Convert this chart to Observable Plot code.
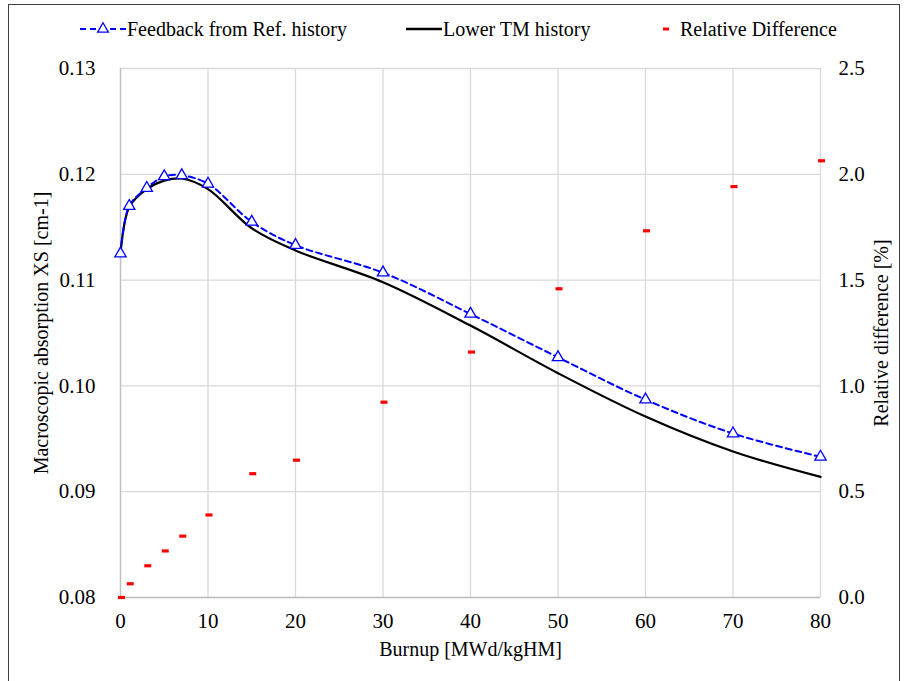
<!DOCTYPE html>
<html>
<head>
<meta charset="utf-8">
<script src="https://cdn.jsdelivr.net/npm/d3@7"></script>
<script src="https://cdn.jsdelivr.net/npm/@observablehq/plot@0.6"></script>
<style>
  html, body { margin: 0; padding: 0; background: #fff; width: 904px; height: 681px; overflow: hidden; }
  body { position: relative; font-family: "Liberation Serif", "Times New Roman", Tinos, "DejaVu Serif", serif; }
  #border { position: absolute; left: 8px; top: 4px; width: 890px; height: 700px; border: 1.5px solid #404040; pointer-events: none; }
  #legend { position: relative; height: 40px; font-size: 20px; color: #000; }
  .item { position: absolute; top: 16px; height: 26px; display: flex; align-items: center; white-space: nowrap; }
  #chart { display: block; }
  #chart svg text { font-family: "Liberation Serif", "Times New Roman", Tinos, "DejaVu Serif", serif; }
</style>
</head>
<body>
<div id="legend"></div>
<div id="chart"></div>
<div id="border"></div>
<script>
// ---- data ----
const burnup = [0, 1, 3, 5, 7, 10, 15, 20, 30, 40, 50, 60, 70, 80];
const feedbackRef = [0.1125, 0.1170, 0.1187, 0.1198, 0.1199, 0.1191, 0.1155, 0.1133, 0.1107, 0.1068, 0.1027, 0.0987, 0.0955, 0.0933];
const lowerTM = [0.1125, 0.1169, 0.1186, 0.1194, 0.1196, 0.1186, 0.1149, 0.1128, 0.1098, 0.1057, 0.1012, 0.0971, 0.0938, 0.0914];
const relDiff = [0.0, 0.065, 0.15, 0.22, 0.29, 0.39, 0.585, 0.649, 0.923, 1.16, 1.459, 1.733, 1.942, 2.064];
const xTicks = [0, 10, 20, 30, 40, 50, 60, 70, 80];
const yLeftTicks = [0.08, 0.09, 0.10, 0.11, 0.12, 0.13];
const yRightTicks = [0.0, 0.5, 1.0, 1.5, 2.0, 2.5];
const seriesNames = ["Feedback from Ref. history", "Lower TM history", "Relative Difference"];
const xTitle = "Burnup [MWd/kgHM]";
const yLeftTitle = "Macroscopic absorption XS [cm-1]";
const yRightTitle = "Relative difference [%]";

// right axis mapping onto left scale
const yMin = 0.08, yMax = 0.13, rMax = 2.5;
const toLeft = r => yMin + r * (yMax - yMin) / rMax;
const fromLeft = v => (v - yMin) * rMax / (yMax - yMin);

const rows = burnup.map((b, i) => ({ b, fb: feedbackRef[i], lo: lowerTM[i], rd: relDiff[i] }));

const dashSymbol = { draw(ctx) { ctx.moveTo(-3.5, -1.6); ctx.lineTo(3.5, -1.6); ctx.lineTo(3.5, 1.6); ctx.lineTo(-3.5, 1.6); ctx.closePath(); } };

const font = "'Liberation Serif', 'Times New Roman', Tinos, 'DejaVu Serif', serif";

const plot = Plot.plot({
  width: 904,
  height: 641,
  marginLeft: 120,
  marginRight: 84,
  marginTop: 28,
  marginBottom: 84,
  style: { fontFamily: font, fontSize: "21px", color: "#000", background: "#fff", overflow: "visible" },
  x: { domain: [0, 80] },
  y: { domain: [yMin, yMax] },
  marks: [
    Plot.gridX(xTicks, { stroke: "#d9d9d9", strokeOpacity: 1, strokeWidth: 1.3 }),
    Plot.gridY(yLeftTicks, { stroke: "#d9d9d9", strokeOpacity: 1, strokeWidth: 1.3 }),
    Plot.ruleX([0], { stroke: "#bfbfbf", strokeWidth: 1.3 }),
    Plot.ruleY([yMin], { stroke: "#bfbfbf", strokeWidth: 1.3 }),
    Plot.axisX(xTicks, { tickSize: 0, tickPadding: 16, label: null, fontSize: 21 }),
    Plot.axisY(yLeftTicks, { anchor: "left", tickSize: 0, tickPadding: 25, label: null, tickFormat: d => d.toFixed(2), fontSize: 21 }),
    Plot.axisY(yRightTicks.map(toLeft), { anchor: "right", tickSize: 0, tickPadding: 18, label: null, tickFormat: d => fromLeft(d).toFixed(1), fontSize: 21 }),
    Plot.line(rows, { x: "b", y: "lo", stroke: "#000", strokeWidth: 2.2, curve: "catmull-rom" }),
    Plot.line(rows, { x: "b", y: "fb", stroke: "#0000ff", strokeWidth: 2, strokeDasharray: "6,4", curve: "catmull-rom" }),
    Plot.dot(rows, { x: "b", y: "fb", symbol: "triangle", r: 4.2, stroke: "#0000ff", strokeWidth: 1.3, fill: "#fff" }),
    Plot.dot(rows, { x: "b", y: d => toLeft(d.rd), symbol: dashSymbol, fill: "#ff0000", stroke: "none", dx: 1 }),
    Plot.text([xTitle], { frameAnchor: "bottom", dy: 58, text: d => d, fontSize: 20, textAnchor: "middle" }),
    Plot.text([yLeftTitle], { frameAnchor: "left", dx: -79, rotate: -90, text: d => d, fontSize: 20, textAnchor: "middle" }),
    Plot.text([yRightTitle], { frameAnchor: "right", dx: 61, rotate: -90, text: d => d, fontSize: 20, textAnchor: "middle" })
  ]
});
document.getElementById("chart").appendChild(plot);

// ---- legend ----
const legend = d3.select("#legend");
const items = [
  { left: 80, w: 46, kind: "fb" },
  { left: 406, w: 36, kind: "lo" },
  { left: 656, w: 20, kind: "rd" }
];
items.forEach((it, i) => {
  const div = legend.append("div").attr("class", "item").style("left", it.left + "px");
  const svg = div.append("svg").attr("width", it.w).attr("height", 26);
  if (it.kind === "fb") {
    svg.append("line").attr("x1", 0).attr("x2", it.w).attr("y1", 13).attr("y2", 13)
      .attr("stroke", "#0000ff").attr("stroke-width", 2).attr("stroke-dasharray", "6,4");
    svg.append("path").attr("d", d3.symbol(d3.symbolTriangle, 50)()).attr("transform", `translate(${it.w / 2},13)`)
      .attr("fill", "#fff").attr("stroke", "#0000ff").attr("stroke-width", 1.3);
  } else if (it.kind === "lo") {
    svg.append("line").attr("x1", 0).attr("x2", it.w).attr("y1", 13).attr("y2", 13)
      .attr("stroke", "#000").attr("stroke-width", 2.4);
  } else {
    svg.append("rect").attr("x", it.w / 2 - 3).attr("y", 11.5).attr("width", 6).attr("height", 3).attr("fill", "#ff0000");
  }
  div.append("span").style("margin-left", it.kind === "rd" ? "4px" : "1px").text(seriesNames[i]);
});
</script>
</body>
</html>
